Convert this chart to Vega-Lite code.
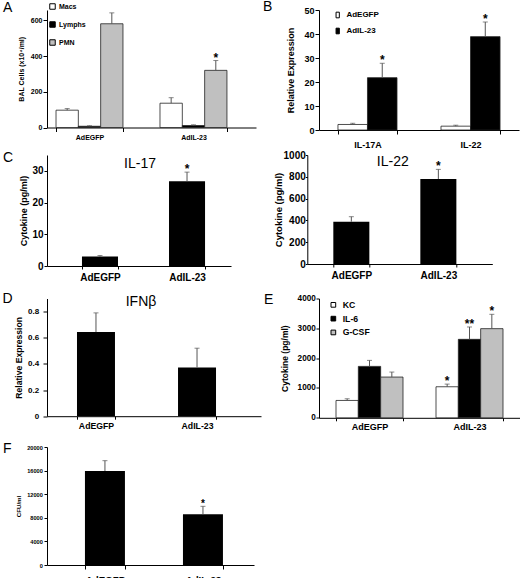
{
  "$schema": "https://vega.github.io/schema/vega-lite/v6.json",
  "padding": {"left": 2, "top": 0, "right": 0, "bottom": 0},
  "autosize": {"type": "pad"},
  "config": {
    "view": {"stroke": null},
    "font": "Liberation Sans",
    "axis": {"grid": false, "domainColor": "#000", "tickColor": "#000", "labelColor": "#000", "titleColor": "#000", "labelFont": "Liberation Sans", "titleFont": "Liberation Sans", "labelFontWeight": "bold", "titleFontWeight": "bold", "domainWidth": 1, "tickWidth": 1, "labelOverlap": false},
    "axisX": {"labelAngle": 0, "tickBand": "extent", "title": null},
    "title": {"font": "Liberation Sans", "color": "#000", "fontWeight": "normal", "fontSize": 14},
    "legend": {"labelFont": "Liberation Sans", "labelFontWeight": "bold", "labelColor": "#000", "padding": 0, "symbolStrokeColor": "#000", "symbolStrokeWidth": 1, "symbolOpacity": 1}
  },
  "datasets": {
    "A": [
      {"group": "AdEGFP", "cell": "Macs", "value": 97, "upper": 106, "sig": ""},
      {"group": "AdEGFP", "cell": "Lymphs", "value": 7, "upper": 10, "sig": ""},
      {"group": "AdEGFP", "cell": "PMN", "value": 581, "upper": 642, "sig": ""},
      {"group": "AdIL-23", "cell": "Macs", "value": 136, "upper": 167, "sig": ""},
      {"group": "AdIL-23", "cell": "Lymphs", "value": 11, "upper": 15, "sig": ""},
      {"group": "AdIL-23", "cell": "PMN", "value": 320, "upper": 375, "sig": "*"}
    ],
    "B": [
      {"gene": "IL-17A", "vector": "AdEGFP", "value": 2.3, "upper": 2.8, "sig": ""},
      {"gene": "IL-17A", "vector": "AdIL-23", "value": 21.8, "upper": 27.8, "sig": "*"},
      {"gene": "IL-22", "vector": "AdEGFP", "value": 1.6, "upper": 2.0, "sig": ""},
      {"gene": "IL-22", "vector": "AdIL-23", "value": 38.9, "upper": 45.0, "sig": "*"}
    ],
    "C17": [
      {"vector": "AdEGFP", "value": 2.96, "upper": 3.3, "sig": ""},
      {"vector": "AdIL-23", "value": 26.7, "upper": 29.6, "sig": "*"}
    ],
    "C22": [
      {"vector": "AdEGFP", "value": 388, "upper": 434, "sig": ""},
      {"vector": "AdIL-23", "value": 780, "upper": 868, "sig": "*"}
    ],
    "D": [
      {"vector": "AdEGFP", "value": 0.643, "upper": 0.79, "sig": ""},
      {"vector": "AdIL-23", "value": 0.373, "upper": 0.52, "sig": ""}
    ],
    "E": [
      {"group": "AdEGFP", "cytokine": "KC", "value": 582, "upper": 638, "sig": ""},
      {"group": "AdEGFP", "cytokine": "IL-6", "value": 1724, "upper": 1925, "sig": ""},
      {"group": "AdEGFP", "cytokine": "G-CSF", "value": 1366, "upper": 1534, "sig": ""},
      {"group": "AdIL-23", "cytokine": "KC", "value": 1041, "upper": 1130, "sig": "*"},
      {"group": "AdIL-23", "cytokine": "IL-6", "value": 2631, "upper": 3045, "sig": "**"},
      {"group": "AdIL-23", "cytokine": "G-CSF", "value": 2989, "upper": 3470, "sig": "*"}
    ],
    "F": [
      {"vector": "AdEGFP", "value": 15932, "upper": 17684, "sig": ""},
      {"vector": "AdIL-23", "value": 8588, "upper": 9944, "sig": "*"}
    ]
  },
  "columns": 1,
  "align": "none",
  "spacing": 9.5,
  "resolve": {"scale": {"x": "independent", "y": "independent", "xOffset": "independent", "fill": "independent"}, "legend": {"fill": "independent"}},
  "concat": [
    {
      "columns": 1,
      "align": "none",
      "spacing": 1,
      "resolve": {"scale": {"x": "independent", "y": "independent", "xOffset": "independent", "fill": "independent"}, "legend": {"fill": "independent"}},
      "concat": [
        {
          "columns": 2,
          "align": "none",
          "spacing": 7,
          "resolve": {"scale": {"x": "independent", "y": "independent", "xOffset": "independent", "fill": "independent"}, "legend": {"fill": "independent"}},
          "concat": [
            {
              "width": 209, "height": 117.5,
              "title": {"text": "A", "anchor": "start", "frame": "group", "dx": -44, "offset": -11.5},
              "data": {"name": "A"},
              "encoding": {
                "x": {"field": "group", "type": "nominal", "sort": ["AdEGFP", "AdIL-23"], "scale": {"paddingInner": 0.356, "paddingOuter": 0.183, "align": 0.237}, "axis": {"labelFontSize": 7, "tickSize": 4, "labelPadding": 2}},
                "xOffset": {"field": "cell", "sort": ["Macs", "Lymphs", "PMN"], "scale": {"paddingInner": 0, "paddingOuter": 0}}
              },
              "layer": [
                {"mark": {"type": "bar", "stroke": "#222", "strokeWidth": 0.8},
                 "encoding": {
                   "y": {"field": "value", "type": "quantitative", "title": "BAL Cells (x10⁴/ml)", "scale": {"domain": [0, 658], "nice": false}, "axis": {"values": [0, 200, 400, 600], "format": "d", "labelOverlap": false, "labelFontSize": 7, "titleFontSize": 7, "tickSize": 4, "labelPadding": 1, "titlePadding": 6}},
                   "fill": {"field": "cell", "type": "nominal", "title": null, "scale": {"domain": ["Macs", "Lymphs", "PMN"], "range": ["#ffffff", "#000000", "#c0c0c0"]},
                            "legend": {"orient": "none", "legendX": 2, "legendY": -7, "title": null, "symbolType": "square", "symbolSize": 30, "labelFontSize": 7, "rowPadding": 7, "labelOffset": 3}}
                 }},
                {"mark": {"type": "rule", "color": "#555"}, "encoding": {"y": {"field": "value", "type": "quantitative", "title": "BAL Cells (x10⁴/ml)", "axis": {"values": [0, 200, 400, 600], "format": "d", "labelOverlap": false, "labelFontSize": 7, "titleFontSize": 7, "tickSize": 4, "labelPadding": 1, "titlePadding": 6}}, "y2": {"field": "upper"}}},
                {"mark": {"type": "tick", "color": "#555", "size": 5, "thickness": 1}, "encoding": {"y": {"field": "upper", "type": "quantitative", "title": "BAL Cells (x10⁴/ml)", "axis": {"values": [0, 200, 400, 600], "format": "d", "labelOverlap": false, "labelFontSize": 7, "titleFontSize": 7, "tickSize": 4, "labelPadding": 1, "titlePadding": 6}}}},
                {"mark": {"type": "text", "fontSize": 12, "fontWeight": "bold", "baseline": "alphabetic", "dy": 1}, "encoding": {"y": {"field": "upper", "type": "quantitative", "title": "BAL Cells (x10⁴/ml)", "axis": {"values": [0, 200, 400, 600], "format": "d", "labelOverlap": false, "labelFontSize": 7, "titleFontSize": 7, "tickSize": 4, "labelPadding": 1, "titlePadding": 6}}, "text": {"field": "sig"}}}
              ]
            },
            {
              "width": 200, "height": 120,
              "title": {"text": "B", "anchor": "start", "frame": "group", "dx": -56, "offset": -8},
              "data": {"name": "B"},
              "encoding": {
                "x": {"field": "gene", "type": "nominal", "sort": ["IL-17A", "IL-22"], "scale": {"paddingInner": 0.427, "paddingOuter": 0.184}, "axis": {"labelFontSize": 9, "tickSize": 4, "labelPadding": 6}},
                "xOffset": {"field": "vector", "sort": ["AdEGFP", "AdIL-23"], "scale": {"paddingInner": 0, "paddingOuter": 0}}
              },
              "layer": [
                {"mark": {"type": "bar", "stroke": "#222", "strokeWidth": 0.8},
                 "encoding": {
                   "y": {"field": "value", "type": "quantitative", "title": "Relative Expression", "scale": {"domain": [0, 50], "nice": false}, "axis": {"values": [0, 10, 20, 30, 40, 50], "format": "d", "labelOverlap": false, "labelFontSize": 9, "titleFontSize": 9, "tickSize": 4, "labelPadding": 1, "titlePadding": 8}},
                   "fill": {"field": "vector", "type": "nominal", "title": null, "scale": {"domain": ["AdEGFP", "AdIL-23"], "range": ["#ffffff", "#000000"]},
                            "legend": {"orient": "none", "legendX": 14.7, "legendY": 1, "title": null, "symbolType": "M-0.58,-1H0.58V1H-0.58Z", "symbolSize": 32, "labelFontSize": 8, "rowPadding": 6, "labelOffset": 4.7}}
                 }},
                {"mark": {"type": "rule", "color": "#555"}, "encoding": {"y": {"field": "value", "type": "quantitative", "title": "Relative Expression", "axis": {"values": [0, 10, 20, 30, 40, 50], "format": "d", "labelOverlap": false, "labelFontSize": 9, "titleFontSize": 9, "tickSize": 4, "labelPadding": 1, "titlePadding": 8}}, "y2": {"field": "upper"}}},
                {"mark": {"type": "tick", "color": "#555", "size": 5, "thickness": 1}, "encoding": {"y": {"field": "upper", "type": "quantitative", "title": "Relative Expression", "axis": {"values": [0, 10, 20, 30, 40, 50], "format": "d", "labelOverlap": false, "labelFontSize": 9, "titleFontSize": 9, "tickSize": 4, "labelPadding": 1, "titlePadding": 8}}}},
                {"mark": {"type": "text", "fontSize": 12, "fontWeight": "bold", "baseline": "alphabetic", "dy": 1}, "encoding": {"y": {"field": "upper", "type": "quantitative", "title": "Relative Expression", "axis": {"values": [0, 10, 20, 30, 40, 50], "format": "d", "labelOverlap": false, "labelFontSize": 9, "titleFontSize": 9, "tickSize": 4, "labelPadding": 1, "titlePadding": 8}}, "text": {"field": "sig"}}}
              ]
            }
          ]
        },
        {
          "columns": 2,
          "align": "none",
          "spacing": 41.3,
          "resolve": {"scale": {"x": "independent", "y": "independent"}},
          "concat": [
            {
              "title": {"text": "C", "anchor": "start", "frame": "bounds", "dx": -17, "offset": -9.5},
              "columns": 1,
              "concat": [
                {
                  "width": 184, "height": 111,
                  "title": {"text": "IL-17", "anchor": "middle", "frame": "group", "dx": 1, "offset": -16.3},
                  "data": {"name": "C17"},
                  "encoding": {
                    "x": {"field": "vector", "type": "nominal", "sort": ["AdEGFP", "AdIL-23"], "scale": {"paddingInner": 0.586, "paddingOuter": 0.35, "align": 0.574}, "axis": {"labelFontSize": 10, "tickSize": 3, "labelPadding": 3}}
                  },
                  "layer": [
                    {"mark": {"type": "bar", "color": "#000"},
                     "encoding": {"y": {"field": "value", "type": "quantitative", "title": "Cytokine (pg/ml)", "scale": {"domain": [0, 35], "nice": false}, "axis": {"values": [0, 10, 20, 30], "format": "d", "labelOverlap": false, "labelFontSize": 10, "titleFontSize": 9, "tickSize": 3, "labelPadding": 1, "titlePadding": 3}}}},
                    {"mark": {"type": "rule", "color": "#555"}, "encoding": {"y": {"field": "value", "type": "quantitative", "title": "Cytokine (pg/ml)", "axis": {"values": [0, 10, 20, 30], "format": "d", "labelOverlap": false, "labelFontSize": 10, "titleFontSize": 9, "tickSize": 3, "labelPadding": 1, "titlePadding": 3}}, "y2": {"field": "upper"}}},
                    {"mark": {"type": "tick", "color": "#555", "size": 5, "thickness": 1}, "encoding": {"y": {"field": "upper", "type": "quantitative", "title": "Cytokine (pg/ml)", "axis": {"values": [0, 10, 20, 30], "format": "d", "labelOverlap": false, "labelFontSize": 10, "titleFontSize": 9, "tickSize": 3, "labelPadding": 1, "titlePadding": 3}}}},
                    {"mark": {"type": "text", "fontSize": 12, "fontWeight": "bold", "baseline": "alphabetic", "dy": 1}, "encoding": {"y": {"field": "upper", "type": "quantitative", "title": "Cytokine (pg/ml)", "axis": {"values": [0, 10, 20, 30], "format": "d", "labelOverlap": false, "labelFontSize": 10, "titleFontSize": 9, "tickSize": 3, "labelPadding": 1, "titlePadding": 3}}, "text": {"field": "sig"}}}
                  ]
                }
              ]
            },
            {
              "width": 185, "height": 109,
              "title": {"text": "IL-22", "anchor": "middle", "frame": "group", "dx": -7, "offset": -18.5},
              "data": {"name": "C22"},
              "encoding": {
                "x": {"field": "vector", "type": "nominal", "sort": ["AdEGFP", "AdIL-23"], "scale": {"paddingInner": 0.586, "paddingOuter": 0.356, "align": 0.42}, "axis": {"labelFontSize": 10, "tickSize": 3, "labelPadding": 3}}
              },
              "layer": [
                {"mark": {"type": "bar", "color": "#000"},
                 "encoding": {"y": {"field": "value", "type": "quantitative", "title": "Cytokine (pg/ml)", "scale": {"domain": [0, 1000], "nice": false}, "axis": {"values": [0, 200, 400, 600, 800, 1000], "format": "d", "labelOverlap": false, "labelFontSize": 10, "titleFontSize": 9.5, "tickSize": 2, "labelPadding": 0, "titlePadding": 0}}}},
                {"mark": {"type": "rule", "color": "#555"}, "encoding": {"y": {"field": "value", "type": "quantitative", "title": "Cytokine (pg/ml)", "axis": {"values": [0, 200, 400, 600, 800, 1000], "format": "d", "labelOverlap": false, "labelFontSize": 10, "titleFontSize": 9.5, "tickSize": 2, "labelPadding": 0, "titlePadding": 0}}, "y2": {"field": "upper"}}},
                {"mark": {"type": "tick", "color": "#555", "size": 5, "thickness": 1}, "encoding": {"y": {"field": "upper", "type": "quantitative", "title": "Cytokine (pg/ml)", "axis": {"values": [0, 200, 400, 600, 800, 1000], "format": "d", "labelOverlap": false, "labelFontSize": 10, "titleFontSize": 9.5, "tickSize": 2, "labelPadding": 0, "titlePadding": 0}}}},
                {"mark": {"type": "text", "fontSize": 12, "fontWeight": "bold", "baseline": "alphabetic", "dy": 1}, "encoding": {"y": {"field": "upper", "type": "quantitative", "title": "Cytokine (pg/ml)", "axis": {"values": [0, 200, 400, 600, 800, 1000], "format": "d", "labelOverlap": false, "labelFontSize": 10, "titleFontSize": 9.5, "tickSize": 2, "labelPadding": 0, "titlePadding": 0}}, "text": {"field": "sig"}}}
              ]
            }
          ]
        }
      ]
    },
    {
      "columns": 2,
      "align": "none",
      "spacing": 3,
      "resolve": {"scale": {"x": "independent", "y": "independent", "xOffset": "independent", "fill": "independent"}, "legend": {"fill": "independent"}},
      "concat": [
        {
          "title": {"text": "D", "anchor": "start", "frame": "bounds", "dx": -12, "offset": -11},
          "columns": 1,
          "concat": [
            {
              "width": 214, "height": 117.7,
              "title": {"text": "IFNβ", "anchor": "middle", "frame": "group", "dx": -13, "offset": -10.2},
              "data": {"name": "D"},
              "encoding": {
                "x": {"field": "vector", "type": "nominal", "sort": ["AdEGFP", "AdIL-23"], "scale": {"paddingInner": 0.624, "paddingOuter": 0.371, "align": 0.4}, "axis": {"labelFontSize": 8.7, "tickSize": 3, "labelPadding": 2}}
              },
              "layer": [
                {"mark": {"type": "bar", "color": "#000"},
                 "encoding": {"y": {"field": "value", "type": "quantitative", "title": "Relative Expression", "scale": {"domain": [0, 0.9], "nice": false}, "axis": {"values": [0, 0.2, 0.4, 0.6, 0.8], "format": "~f", "labelOverlap": false, "labelFontSize": 8, "titleFontSize": 8.6, "tickSize": 4, "labelPadding": 4.3, "titlePadding": 4}}}},
                {"mark": {"type": "rule", "color": "#555"}, "encoding": {"y": {"field": "value", "type": "quantitative", "title": "Relative Expression", "axis": {"values": [0, 0.2, 0.4, 0.6, 0.8], "format": "~f", "labelOverlap": false, "labelFontSize": 8, "titleFontSize": 8.6, "tickSize": 4, "labelPadding": 4.3, "titlePadding": 4}}, "y2": {"field": "upper"}}},
                {"mark": {"type": "tick", "color": "#555", "size": 5, "thickness": 1}, "encoding": {"y": {"field": "upper", "type": "quantitative", "title": "Relative Expression", "axis": {"values": [0, 0.2, 0.4, 0.6, 0.8], "format": "~f", "labelOverlap": false, "labelFontSize": 8, "titleFontSize": 8.6, "tickSize": 4, "labelPadding": 4.3, "titlePadding": 4}}}}
              ]
            }
          ]
        },
        {
          "width": 201, "height": 119.3,
          "title": {"text": "E", "anchor": "start", "frame": "group", "dx": -55, "offset": -13.3},
          "data": {"name": "E"},
          "encoding": {
            "x": {"field": "group", "type": "nominal", "sort": ["AdEGFP", "AdIL-23"], "scale": {"paddingInner": 0.33, "paddingOuter": 0.17}, "axis": {"labelFontSize": 9, "tickSize": 3, "labelPadding": 2}},
            "xOffset": {"field": "cytokine", "sort": ["KC", "IL-6", "G-CSF"], "scale": {"paddingInner": 0, "paddingOuter": 0}}
          },
          "layer": [
            {"mark": {"type": "bar", "stroke": "#222", "strokeWidth": 0.8},
             "encoding": {
               "y": {"field": "value", "type": "quantitative", "title": "Cytokine (pg/ml)", "scale": {"domain": [0, 4000], "nice": false}, "axis": {"values": [0, 1000, 2000, 3000, 4000], "format": "d", "labelOverlap": false, "labelFontSize": 8.2, "titleFontSize": 8.5, "tickSize": 3, "labelPadding": 0.7, "titlePadding": 8}},
               "fill": {"field": "cytokine", "type": "nominal", "title": null, "scale": {"domain": ["KC", "IL-6", "G-CSF"], "range": ["#ffffff", "#000000", "#c0c0c0"]},
                        "legend": {"orient": "none", "legendX": 10, "legendY": 2, "title": null, "symbolType": "square", "symbolSize": 22, "labelFontSize": 8.7, "rowPadding": 3.8, "labelOffset": 5}}
             }},
            {"mark": {"type": "rule", "color": "#555"}, "encoding": {"y": {"field": "value", "type": "quantitative", "title": "Cytokine (pg/ml)", "axis": {"values": [0, 1000, 2000, 3000, 4000], "format": "d", "labelOverlap": false, "labelFontSize": 8.2, "titleFontSize": 8.5, "tickSize": 3, "labelPadding": 0.7, "titlePadding": 8}}, "y2": {"field": "upper"}}},
            {"mark": {"type": "tick", "color": "#555", "size": 5, "thickness": 1}, "encoding": {"y": {"field": "upper", "type": "quantitative", "title": "Cytokine (pg/ml)", "axis": {"values": [0, 1000, 2000, 3000, 4000], "format": "d", "labelOverlap": false, "labelFontSize": 8.2, "titleFontSize": 8.5, "tickSize": 3, "labelPadding": 0.7, "titlePadding": 8}}}},
            {"mark": {"type": "text", "fontSize": 12, "fontWeight": "bold", "baseline": "alphabetic", "dy": 1}, "encoding": {"y": {"field": "upper", "type": "quantitative", "title": "Cytokine (pg/ml)", "axis": {"values": [0, 1000, 2000, 3000, 4000], "format": "d", "labelOverlap": false, "labelFontSize": 8.2, "titleFontSize": 8.5, "tickSize": 3, "labelPadding": 0.7, "titlePadding": 8}}, "text": {"field": "sig"}}}
          ]
        }
      ]
    },
    {
      "width": 207, "height": 118,
      "title": {"text": "F", "anchor": "start", "frame": "group", "dx": -44, "offset": -11},
      "data": {"name": "F"},
      "encoding": {
        "x": {"field": "vector", "type": "nominal", "sort": ["AdEGFP", "AdIL-23"], "scale": {"paddingInner": 0.592, "paddingOuter": 0.352, "align": 0.55}, "axis": {"labelFontSize": 9.7, "tickSize": 4, "labelPadding": 5}}
      },
      "layer": [
        {"mark": {"type": "bar", "color": "#000"},
         "encoding": {"y": {"field": "value", "type": "quantitative", "title": "CFU/ml", "scale": {"domain": [0, 20000], "nice": false}, "axis": {"values": [0, 4000, 8000, 12000, 16000, 20000], "format": "d", "labelOverlap": false, "labelFontSize": 5.6, "titleFontSize": 6.2, "tickSize": 3, "labelPadding": 1.7, "titlePadding": 5}}}},
        {"mark": {"type": "rule", "color": "#555"}, "encoding": {"y": {"field": "value", "type": "quantitative", "title": "CFU/ml", "axis": {"values": [0, 4000, 8000, 12000, 16000, 20000], "format": "d", "labelOverlap": false, "labelFontSize": 5.6, "titleFontSize": 6.2, "tickSize": 3, "labelPadding": 1.7, "titlePadding": 5}}, "y2": {"field": "upper"}}},
        {"mark": {"type": "tick", "color": "#555", "size": 5, "thickness": 1}, "encoding": {"y": {"field": "upper", "type": "quantitative", "title": "CFU/ml", "axis": {"values": [0, 4000, 8000, 12000, 16000, 20000], "format": "d", "labelOverlap": false, "labelFontSize": 5.6, "titleFontSize": 6.2, "tickSize": 3, "labelPadding": 1.7, "titlePadding": 5}}}},
        {"mark": {"type": "text", "fontSize": 10, "fontWeight": "bold", "baseline": "alphabetic", "dy": 1}, "encoding": {"y": {"field": "upper", "type": "quantitative", "title": "CFU/ml", "axis": {"values": [0, 4000, 8000, 12000, 16000, 20000], "format": "d", "labelOverlap": false, "labelFontSize": 5.6, "titleFontSize": 6.2, "tickSize": 3, "labelPadding": 1.7, "titlePadding": 5}}, "text": {"field": "sig"}}}
      ]
    }
  ]
}
